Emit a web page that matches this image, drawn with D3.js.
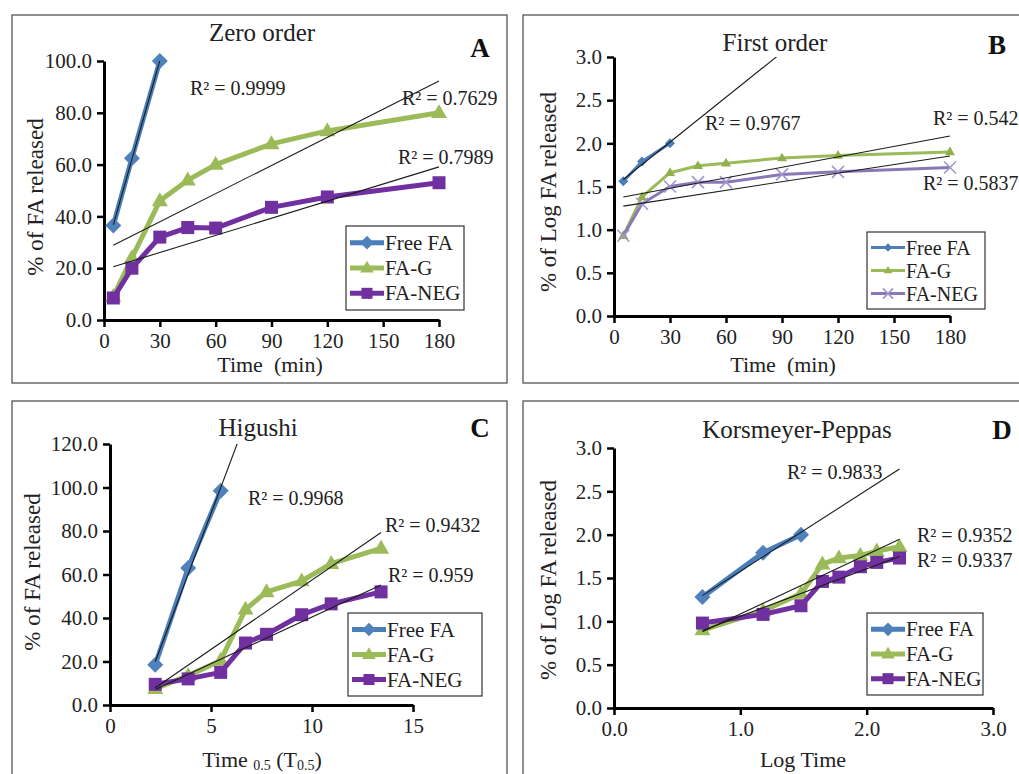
<!DOCTYPE html>
<html>
<head>
<meta charset="utf-8">
<script src="https://cdn.jsdelivr.net/npm/d3@7"></script>
<style>
  html, body { margin: 0; padding: 0; background: #fff; overflow: hidden; }
  svg { display: block; font-family: "Liberation Serif", "Times New Roman", serif; }
</style>
</head>
<body>
<svg id="chart" width="1019" height="774"></svg>
<script>
(function () {
  'use strict';

  /* -----------------------------------------------------------
     Data
  ----------------------------------------------------------- */
  var SERIES = ['Free FA', 'FA-G', 'FA-NEG'];

  var TIME_MIN  = [5, 15, 30, 45, 60, 90, 120, 180];
  var SQRT_TIME = [2.24, 3.87, 5.48, 6.71, 7.75, 9.49, 10.95, 13.42];
  var LOG_TIME  = [0.70, 1.18, 1.48, 1.65, 1.78, 1.95, 2.08, 2.26];

  // A — zero order (% released vs time)
  var ZERO_FREE = [36.5, 62.5, 100];
  var ZERO_G    = [9, 24, 46, 54, 60, 68, 73, 80];
  var ZERO_NEG  = [8.5, 20, 32, 35.7, 35.5, 43.5, 47.5, 53];
  var ZERO_R2   = ['R\u00B2 = 0.9999', 'R\u00B2 = 0.7629', 'R\u00B2 = 0.7989'];

  // B — first order (log % released vs time)
  var FIRST_FREE = [1.56, 1.79, 2.0];
  var FIRST_G    = [0.93, 1.38, 1.66, 1.74, 1.77, 1.83, 1.86, 1.9];
  var FIRST_NEG  = [0.93, 1.3, 1.5, 1.55, 1.55, 1.64, 1.67, 1.72];
  var FIRST_R2   = ['R\u00B2 = 0.9767', 'R\u00B2 = 0.542', 'R\u00B2 = 0.5837'];

  // C — Higuchi (% released vs sqrt time)
  var HIG_FREE = [18.5, 63, 98.5];
  var HIG_G    = [7.5, 13.5, 20.5, 44, 52, 57, 65, 72];
  var HIG_NEG  = [9.5, 12, 15, 28.5, 32.5, 41.5, 46.5, 52];
  var HIG_R2   = ['R\u00B2 = 0.9968', 'R\u00B2 = 0.9432', 'R\u00B2 = 0.959'];

  // D — Korsmeyer-Peppas (log % released vs log time)
  var KP_FREE = [1.28, 1.79, 2.0];
  var KP_G    = [0.9, 1.12, 1.32, 1.66, 1.73, 1.76, 1.81, 1.86];
  var KP_NEG  = [0.98, 1.08, 1.18, 1.46, 1.51, 1.63, 1.68, 1.73];
  var KP_R2   = ['R\u00B2 = 0.9833', 'R\u00B2 = 0.9352', 'R\u00B2 = 0.9337'];

  var TICKS_TIME = [0, 30, 60, 90, 120, 150, 180];
  var TICKS_PCT  = [0, 20, 40, 60, 80, 100];
  var TICKS_PCT2 = [0, 20, 40, 60, 80, 100, 120];
  var TICKS_LOG  = [0, 0.5, 1, 1.5, 2, 2.5, 3];
  var TICKS_SQRT = [0, 5, 10, 15];
  var TICKS_LOGT = [0, 1, 2, 3];

  /* -----------------------------------------------------------
     Styles
  ----------------------------------------------------------- */
  var FONT = '"Liberation Serif", "Times New Roman", serif';
  var BLUE = '#4A7EBB', GREEN = '#9BBB59', PURPLE = '#7030A0';
  var LAV_LINE = '#8A77B6', LAV_MARK = '#A196CE';

  function pairs(xs, ys) {
    return ys.map(function (v, i) { return [xs[i], v]; });
  }

  function styles(thin) {
    if (thin) {
      return [
        { color: BLUE,  mark: BLUE,  shape: 'diamond',  size: 5,  width: 3 },
        { color: GREEN, mark: '#8FB04A', shape: 'triangle', size: 10, width: 3 },
        { color: LAV_LINE, mark: LAV_MARK, shape: 'x', size: 6, width: 3 }
      ];
    }
    return [
      { color: BLUE,   mark: '#4F81BD', shape: 'diamond',  size: 8,  width: 5 },
      { color: GREEN,  mark: GREEN,     shape: 'triangle', size: 16, width: 5 },
      { color: PURPLE, mark: PURPLE,    shape: 'square',   size: 13, width: 5 }
    ];
  }

  var PANELS = [
    {
      id: 'A', frame: [12, 15, 495, 368],
      x: TIME_MIN, ys: [ZERO_FREE, ZERO_G, ZERO_NEG], r2: ZERO_R2,
      xDomain: [0, 180], xRange: [104, 439], xTicks: TICKS_TIME, xFmt: d3.format('d'),
      yDomain: [0, 100], yRange: [320, 61], yTicks: TICKS_PCT, yFmt: d3.format('.1f'),
      plotRight: 462,
      title: 'Zero order', titlePos: [262, 41], letterPos: [480, 57],
      xTitle: 'Time  (min)', xTitlePos: [270, 372],
      yTitle: '% of FA released', yTitlePos: [43, 197],
      r2Pos: [[190, 95], [402, 105], [398, 164]],
      legend: [346, 226, 118, 84], legendFont: 21, thin: false
    },
    {
      id: 'B', frame: [523, 15, 520, 368],
      x: TIME_MIN, ys: [FIRST_FREE, FIRST_G, FIRST_NEG], r2: FIRST_R2,
      xDomain: [0, 180], xRange: [614, 950], xTicks: TICKS_TIME, xFmt: d3.format('d'),
      yDomain: [0, 3], yRange: [316, 57], yTicks: TICKS_LOG, yFmt: d3.format('.1f'),
      plotRight: 975,
      title: 'First order', titlePos: [775, 51], letterPos: [997, 54],
      xTitle: 'Time  (min)', xTitlePos: [783, 372],
      yTitle: '% of Log FA released', yTitlePos: [556, 192],
      r2Pos: [[705, 130], [933, 125], [923, 190]],
      legend: [867, 232, 118, 77], legendFont: 20, thin: true
    },
    {
      id: 'C', frame: [12, 401, 495, 400],
      x: SQRT_TIME, ys: [HIG_FREE, HIG_G, HIG_NEG], r2: HIG_R2,
      xDomain: [0, 15], xRange: [110, 413], xTicks: TICKS_SQRT, xFmt: d3.format('d'),
      yDomain: [0, 120], yRange: [705, 444], yTicks: TICKS_PCT2, yFmt: d3.format('.1f'),
      plotRight: 470,
      title: 'Higushi', titlePos: [258, 436], letterPos: [480, 437],
      xTitle: null, xTitlePos: [262, 767],
      yTitle: '% of FA released', yTitlePos: [40, 572],
      r2Pos: [[248, 505], [385, 532], [388, 582]],
      legend: [348, 613, 134, 83], legendFont: 21, thin: false
    },
    {
      id: 'D', frame: [523, 401, 520, 400],
      x: LOG_TIME, ys: [KP_FREE, KP_G, KP_NEG], r2: KP_R2,
      xDomain: [0, 3], xRange: [614, 993], xTicks: TICKS_LOGT, xFmt: d3.format('.1f'),
      yDomain: [0, 3], yRange: [708, 448], yTicks: TICKS_LOG, yFmt: d3.format('.1f'),
      plotRight: 993,
      title: 'Korsmeyer-Peppas', titlePos: [797, 438], letterPos: [1002, 439],
      xTitle: 'Log Time', xTitlePos: [803, 767],
      yTitle: '% of Log FA released', yTitlePos: [556, 580],
      r2Pos: [[787, 479], [917, 542], [917, 567]],
      legend: [867, 613, 116, 82], legendFont: 21, thin: false
    }
  ];

  /* -----------------------------------------------------------
     Helpers
  ----------------------------------------------------------- */
  function markerPath(shape, s) {
    if (shape === 'diamond') return 'M0,' + (-s) + 'L' + s + ',0L0,' + s + 'L' + (-s) + ',0Z';
    if (shape === 'square') return 'M' + (-s / 2) + ',' + (-s / 2) + 'h' + s + 'v' + s + 'h' + (-s) + 'Z';
    if (shape === 'triangle') {
      var h = s * 0.866;
      return 'M0,' + (-h * 0.62) + 'L' + (s / 2) + ',' + (h * 0.38) + 'L' + (-s / 2) + ',' + (h * 0.38) + 'Z';
    }
    // x
    return 'M' + (-s) + ',' + (-s) + 'L' + s + ',' + s + 'M' + (-s) + ',' + s + 'L' + s + ',' + (-s);
  }

  function drawMarker(g, st, cx, cy, scale) {
    var s = st.size * (scale || 1);
    var p = g.append('path')
      .attr('d', markerPath(st.shape, s))
      .attr('transform', 'translate(' + cx + ',' + cy + ')');
    if (st.shape === 'x') {
      p.attr('fill', 'none').attr('stroke', st.mark).attr('stroke-width', 1.6);
    } else {
      p.attr('fill', st.mark);
    }
  }

  function regression(pts) {
    var mx = d3.mean(pts, function (d) { return d[0]; });
    var my = d3.mean(pts, function (d) { return d[1]; });
    var sxy = 0, sxx = 0;
    pts.forEach(function (d) {
      sxy += (d[0] - mx) * (d[1] - my);
      sxx += (d[0] - mx) * (d[0] - mx);
    });
    var b = sxy / sxx;
    return { slope: b, intercept: my - b * mx };
  }

  var svg = d3.select('#chart');

  function drawPanel(p) {
    var g = svg.append('g').attr('class', 'panel-' + p.id);
    var sty = styles(p.thin);

    g.append('rect')
      .attr('x', p.frame[0]).attr('y', p.frame[1])
      .attr('width', p.frame[2]).attr('height', p.frame[3])
      .attr('fill', 'none').attr('stroke', '#555').attr('stroke-width', 1.3);

    var x = d3.scaleLinear().domain(p.xDomain).range(p.xRange);
    var y = d3.scaleLinear().domain(p.yDomain).range(p.yRange);

    var clipId = 'clip' + p.id;
    svg.append('clipPath').attr('id', clipId)
      .append('rect')
      .attr('x', p.xRange[0]).attr('y', p.yRange[1])
      .attr('width', p.plotRight - p.xRange[0])
      .attr('height', p.yRange[0] - p.yRange[1]);

    /* Axes */
    var xAxis = d3.axisBottom(x).tickValues(p.xTicks).tickFormat(p.xFmt)
      .tickSize(7).tickSizeOuter(0).tickPadding(6);
    var yAxis = d3.axisLeft(y).tickValues(p.yTicks).tickFormat(p.yFmt)
      .tickSize(7).tickSizeOuter(0).tickPadding(5);

    var gx = g.append('g').attr('transform', 'translate(0,' + p.yRange[0] + ')').call(xAxis);
    var gy = g.append('g').attr('transform', 'translate(' + p.xRange[0] + ',0)').call(yAxis);
    [gx, gy].forEach(function (ax) {
      ax.select('.domain').attr('stroke', '#000').attr('stroke-width', 3);
      ax.selectAll('.tick line').attr('stroke', '#000').attr('stroke-width', 2.5);
      ax.selectAll('.tick text').attr('fill', '#222')
        .style('font-family', FONT).style('font-size', '21px');
    });

    /* Series lines + markers */
    var line = d3.line().x(function (d) { return x(d[0]); }).y(function (d) { return y(d[1]); });
    var series = p.ys.map(function (vals) { return pairs(p.x, vals); });
    var xMax = d3.max(p.x);

    var plot = g.append('g');
    series.forEach(function (pts, i) {
      var st = sty[i];
      plot.append('path').datum(pts)
        .attr('d', line)
        .attr('fill', 'none')
        .attr('stroke', st.color)
        .attr('stroke-width', st.width)
        .attr('stroke-linejoin', 'round');
      pts.forEach(function (d) { drawMarker(plot, st, x(d[0]), y(d[1])); });
    });

    /* Linear trend lines, forecast to the last time point, clipped to plot area */
    var trend = g.append('g').attr('clip-path', 'url(#' + clipId + ')');
    series.forEach(function (pts) {
      var r = regression(pts);
      var x0 = pts[0][0];
      var ends = [[x0, r.intercept + r.slope * x0], [xMax, r.intercept + r.slope * xMax]];
      trend.append('path').datum(ends)
        .attr('d', line)
        .attr('fill', 'none')
        .attr('stroke', '#1b1b1b')
        .attr('stroke-width', 1.1);
    });

    /* R² labels */
    p.r2.forEach(function (t, i) {
      g.append('text')
        .attr('x', p.r2Pos[i][0]).attr('y', p.r2Pos[i][1])
        .style('font-size', '20px').attr('fill', '#222')
        .text(t);
    });

    /* Title and panel letter */
    g.append('text')
      .attr('x', p.titlePos[0]).attr('y', p.titlePos[1])
      .attr('text-anchor', 'middle').style('font-size', '25px').attr('fill', '#222')
      .text(p.title);
    g.append('text')
      .attr('x', p.letterPos[0]).attr('y', p.letterPos[1])
      .attr('text-anchor', 'middle').style('font-size', '27px').style('font-weight', 'bold')
      .attr('fill', '#111')
      .text(p.id);

    /* Axis titles */
    var xt = g.append('text')
      .attr('x', p.xTitlePos[0]).attr('y', p.xTitlePos[1])
      .attr('text-anchor', 'middle').style('font-size', '22px').attr('fill', '#222')
      .style('white-space', 'pre');
    if (p.xTitle) {
      xt.text(p.xTitle);
    } else {
      xt.append('tspan').text('Time ');
      xt.append('tspan').attr('dy', 3).style('font-size', '14px').text('0.5');
      xt.append('tspan').attr('dy', -3).text(' (T');
      xt.append('tspan').attr('dy', 3).style('font-size', '14px').text('0.5');
      xt.append('tspan').attr('dy', -3).text(')');
    }
    g.append('text')
      .attr('transform', 'translate(' + p.yTitlePos[0] + ',' + p.yTitlePos[1] + ') rotate(-90)')
      .attr('text-anchor', 'middle').style('font-size', '23px').attr('fill', '#222')
      .text(p.yTitle);

    /* Legend */
    var L = p.legend;
    var lg = g.append('g');
    lg.append('rect')
      .attr('x', L[0]).attr('y', L[1]).attr('width', L[2]).attr('height', L[3])
      .attr('fill', '#fff').attr('stroke', '#333').attr('stroke-width', 1.2);
    var rowH = (L[3] - 8) / 3;
    SERIES.forEach(function (name, i) {
      var st = sty[i];
      var cy = L[1] + 4 + rowH * (i + 0.5);
      var lx = L[0] + 4;
      lg.append('line')
        .attr('x1', lx).attr('x2', lx + 34).attr('y1', cy).attr('y2', cy)
        .attr('stroke', st.color).attr('stroke-width', st.width);
      drawMarker(lg, st, lx + 17, cy, 0.85);
      lg.append('text')
        .attr('x', lx + 35).attr('y', cy + 7)
        .style('font-size', p.legendFont + 'px').attr('fill', '#222')
        .text(name);
    });
  }

  PANELS.forEach(drawPanel);
})();
</script>
</body>
</html>
